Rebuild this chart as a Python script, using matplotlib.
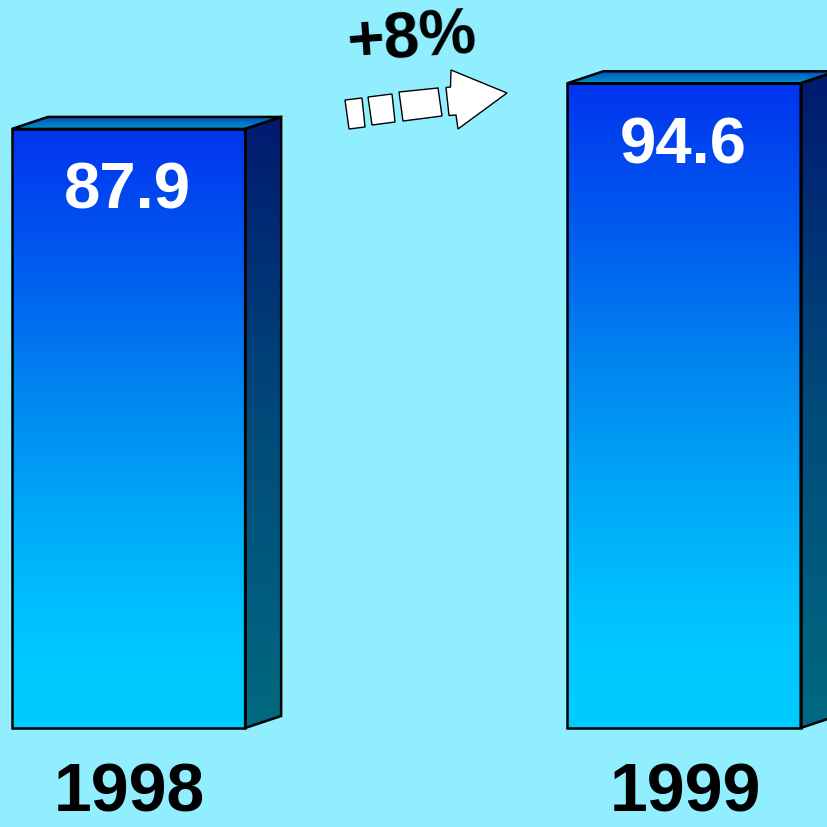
import numpy as np
import matplotlib
matplotlib.use("Agg")
import matplotlib.pyplot as plt
from matplotlib.patches import Polygon
from matplotlib.colors import LinearSegmentedColormap
import matplotlib.transforms as mtransforms

# ---- data ----
years = ["1998", "1999"]
values = [87.9, 94.6]
value_labels = ["87.9", "94.6"]
growth_label = "+8%"

BG = "#90EEFF"
FONT = "Liberation Sans"

fig = plt.figure(figsize=(8.28, 8.27), dpi=100, facecolor=BG)
ax = fig.add_axes([0, 0, 1, 1])
ax.set_facecolor(BG)
ax.axis("off")

xs = np.arange(len(values))
width = 0.42
# depth of the 3D effect, in data units (36 px right, 12 px up)
DX = 36 / 555.5
DY = 12 / 6.815

front_cmap = LinearSegmentedColormap.from_list(
    "front",
    [(0.0, "#00CCFF"), (0.15, "#00C6FF"), (0.35, "#00AAF8"),
     (0.55, "#0088F0"), (0.75, "#0060EE"), (1.0, "#0034EE")])
side_cmap = LinearSegmentedColormap.from_list(
    "side", [(0.0, "#006A80"), (0.5, "#004A7A"), (1.0, "#001A70")])
top_cmap = LinearSegmentedColormap.from_list(
    "top", [(0.0, "#0096BE"), (0.45, "#0072C8"), (1.0, "#004CB8")])

grad = np.linspace(0, 1, 256).reshape(-1, 1)
LW = 1.8

for x, v in zip(xs, values):
    xl, xr = x - width / 2, x + width / 2
    # front face
    front = Polygon([(xl, 0), (xr, 0), (xr, v), (xl, v)], closed=True,
                    facecolor="none", edgecolor="black", lw=LW, zorder=3)
    ax.add_patch(front)
    im = ax.imshow(grad, cmap=front_cmap, origin="lower", aspect="auto",
                   extent=[xl, xr, 0, v], zorder=2, interpolation="bilinear")
    im.set_clip_path(front)
    # side face
    side = Polygon([(xr, 0), (xr + DX, DY), (xr + DX, v + DY), (xr, v)],
                   closed=True, facecolor="none", edgecolor="black", lw=LW,
                   zorder=3)
    ax.add_patch(side)
    im = ax.imshow(grad, cmap=side_cmap, origin="lower", aspect="auto",
                   extent=[xr, xr + DX, 0, v + DY], zorder=2,
                   interpolation="bilinear")
    im.set_clip_path(side)
    # top face
    top = Polygon([(xl, v), (xl + DX, v + DY), (xr + DX, v + DY), (xr, v)],
                  closed=True, facecolor="none", edgecolor="black", lw=LW,
                  zorder=3)
    ax.add_patch(top)
    im = ax.imshow(grad, cmap=top_cmap, origin="lower", aspect="auto",
                   extent=[xl, xr + DX, v, v + DY], zorder=2,
                   interpolation="bilinear")
    im.set_clip_path(top)

ax.set_xlim(-0.2313, 1.2592)
ax.set_ylim(-14.527, 106.82)

# value labels inside bars
for x, v, lab in zip(xs, values, value_labels):
    ax.annotate(lab, xy=(x, v), xytext=(-1, -63), textcoords="offset pixels",
                ha="center", va="center", color="white", fontsize=47,
                fontweight="bold", family=FONT, zorder=5)

# year labels below bars (kept just inside the bottom edge)
for x, lab in zip(xs, years):
    ax.annotate(lab, xy=(x, 0), xytext=(1, -98), textcoords="offset pixels",
                ha="center", va="bottom", color="black", fontsize=49,
                fontweight="bold", family=FONT, zorder=5,
                annotation_clip=False)

# growth arrow (decoration, in figure pixel coordinates)
px = mtransforms.Affine2D().scale(1 / 828, -1 / 827).translate(0, 1) + fig.transFigure
shapes = [
    [(345, 100), (362, 98), (365, 127), (349, 129)],
    [(368, 97), (392, 94), (395, 122), (372, 125)],
    [(399, 92), (438, 88), (442, 116), (403, 121)],
    [(446, 87.5), (450.5, 87), (451, 70), (507, 93), (458, 129),
     (456, 115), (449, 115.5)],
]
for pts in shapes:
    ax.add_patch(Polygon(pts, closed=True, facecolor="white",
                         edgecolor="black", lw=1.0, transform=px, zorder=6))

fig.text(412 / 828, 1 - 40 / 827, growth_label, ha="center", va="center",
         rotation=4, fontsize=46, fontweight="bold", family=FONT,
         color="black")

fig.savefig("out.png", dpi=100, facecolor=BG)
